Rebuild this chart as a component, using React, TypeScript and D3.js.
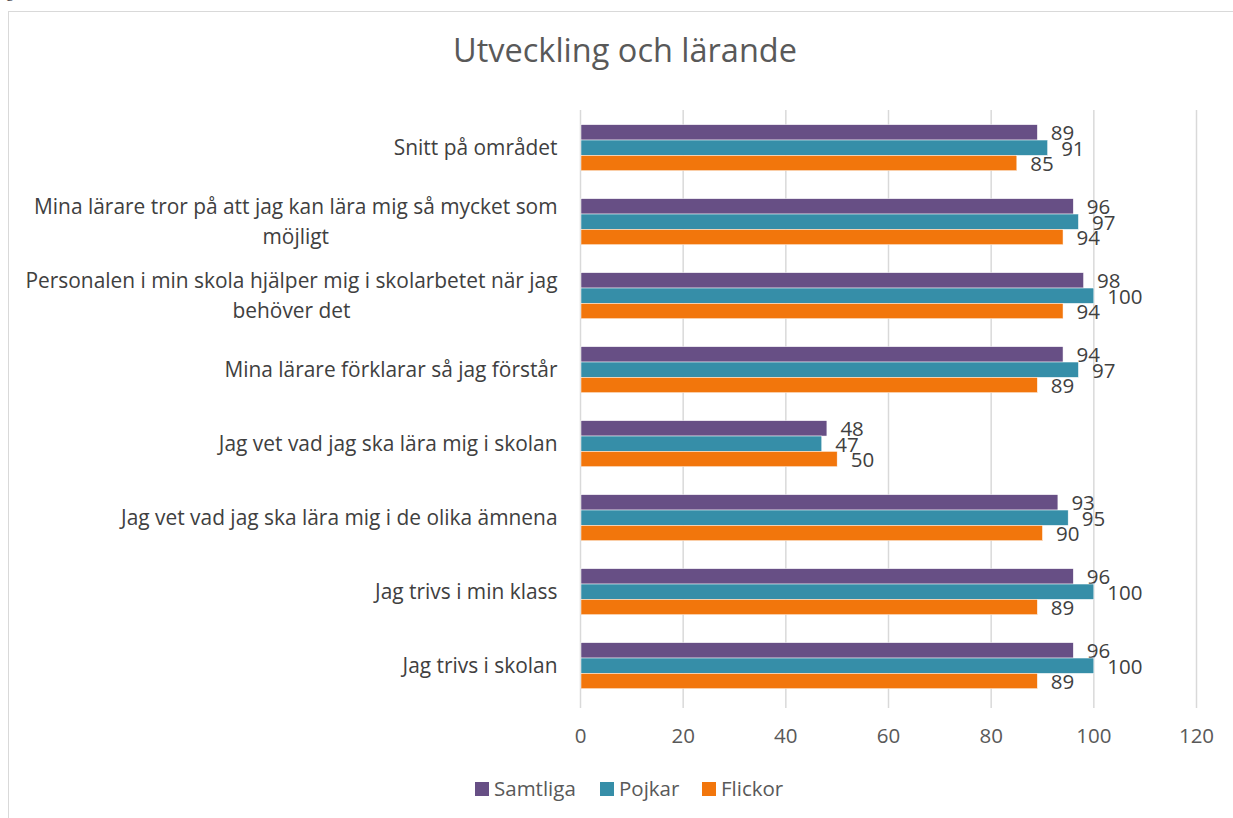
import React, { useEffect, useRef } from "react";
import * as d3 from "d3";

const title = "Utveckling och lärande";
const categories = [
  "Snitt på området",
  "Mina lärare tror på att jag kan lära mig så mycket som\nmöjligt",
  "Personalen i min skola hjälper mig i skolarbetet när jag\nbehöver det",
  "Mina lärare förklarar så jag förstår",
  "Jag vet vad jag ska lära mig i skolan",
  "Jag vet vad jag ska lära mig i de olika ämnena",
  "Jag trivs i min klass",
  "Jag trivs i skolan",
];
const seriesNames = ["Samtliga", "Pojkar", "Flickor"];
const samtliga = [89, 96, 98, 94, 48, 93, 96, 96];
const pojkar = [91, 97, 100, 97, 47, 95, 100, 100];
const flickor = [85, 94, 94, 89, 50, 90, 89, 89];
const xTicks = [0, 20, 40, 60, 80, 100, 120];
const colors = ["#674f85", "#368ea8", "#f2760c"];

const FONT = "'Open Sans', Lato, sans-serif";
const FS = 20.5;
const CAT_FS = 20.9;

export default function App() {
  const ref = useRef<SVGSVGElement>(null);
  useEffect(() => {
    const svg = d3.select(ref.current);
    svg.selectAll("*").remove();
    // stray glyph above frame
    svg.append("text").attr("x", 6).attr("y", -3).attr("font-family", "'Liberation Serif', serif")
      .attr("font-size", 16).attr("fill", "#404040").text("g");
    // frame
    svg.append("rect").attr("x", 8.5).attr("y", 11.5).attr("width", 1240).attr("height", 820)
      .attr("fill", "#fff").attr("stroke", "#d9d9d9").attr("stroke-width", 1);

    const x = d3.scaleLinear().domain([0, 120]).range([580.5, 1196.5]);
    const y = d3.scaleBand<number>().domain(d3.range(categories.length)).range([110.7, 702.7])
      .paddingInner(0.378).paddingOuter(0.189);
    const inner = d3.scaleBand<number>().domain([0, 1, 2]).range([0, y.bandwidth()]);
    const series = [samtliga, pojkar, flickor];

    // grid
    svg.append("g").selectAll("line").data(xTicks).join("line")
      .attr("x1", d => x(d)).attr("x2", d => x(d)).attr("y1", 110).attr("y2", 703)
      .attr("stroke", "#d9d9d9").attr("stroke-width", 1.5);
    // tick marks
    svg.append("g").selectAll("line").data(xTicks).join("line")
      .attr("x1", d => x(d)).attr("x2", d => x(d)).attr("y1", 703).attr("y2", 708)
      .attr("stroke", "#d9d9d9").attr("stroke-width", 1.5);
    // tick labels
    svg.append("g").selectAll("text").data(xTicks).join("text")
      .attr("x", d => x(d)).attr("y", 743).attr("text-anchor", "middle")
      .attr("font-family", FONT).attr("font-size", FS).attr("fill", "#595959").text(d => String(d));

    // bars
    series.forEach((vals, si) => {
      const g = svg.append("g");
      g.selectAll("rect").data(vals).join("rect")
        .attr("x", x(0) + 0.5)
        .attr("y", (_, i) => (y(i) as number) + (inner(si) as number))
        .attr("width", d => x(d) - x(0) - 0.5)
        .attr("height", inner.bandwidth())
        .attr("fill", colors[si]).attr("stroke", "#ffffff").attr("stroke-width", 0.5);
      g.selectAll("text").data(vals).join("text")
        .attr("x", d => x(d) + 13.5)
        .attr("y", (_, i) => (y(i) as number) + (inner(si) as number) + inner.bandwidth() / 2 + 7.8)
        .attr("font-family", FONT).attr("font-size", FS).attr("fill", "#404040")
        .text(d => String(d));
    });

    // category labels
    const catG = svg.append("g");
    categories.forEach((c, i) => {
      const lines = c.split("\n");
      const cy = (y(i) as number) + y.bandwidth() / 2;
      const lh = 30;
      const t = catG.append("g");
      const texts = lines.map((ln, li) =>
        t.append("text").attr("font-family", FONT).attr("font-size", CAT_FS).attr("fill", "#404040")
          .attr("text-anchor", "middle")
          .attr("y", cy + 7 + (li - (lines.length - 1) / 2) * lh).text(ln)
      );
      const maxW = d3.max(texts, tt => (tt.node() as SVGTextElement).getComputedTextLength()) || 0;
      const right = 557.5;
      texts.forEach(tt => tt.attr("x", right - maxW / 2));
    });

    // title
    svg.append("text").attr("x", 625).attr("y", 62).attr("text-anchor", "middle")
      .attr("font-family", FONT).attr("font-size", 32.5).attr("fill", "#595959").text(title);

    // legend
    const legX = [475, 600, 702];
    seriesNames.forEach((n, i) => {
      svg.append("rect").attr("x", legX[i]).attr("y", 782).attr("width", 14).attr("height", 14).attr("fill", colors[i]);
      svg.append("text").attr("x", legX[i] + 19).attr("y", 796).attr("font-family", FONT)
        .attr("font-size", FS).attr("fill", "#595959").text(n);
    });
  }, []);
  return (
    <svg ref={ref} width={1233} height={818}
      style={{ position: "absolute", left: 0, top: 0, background: "#fff", overflow: "visible" }} />
  );
}
